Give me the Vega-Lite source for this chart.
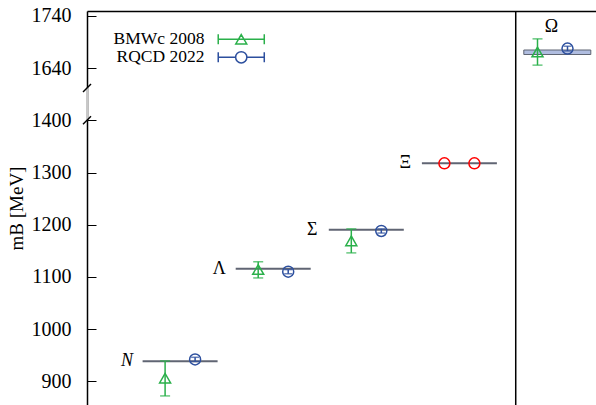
{
  "$schema": "https://vega.github.io/schema/vega-lite/v6.json",
  "width": 509,
  "height": 394,
  "autosize": "none",
  "padding": {"left": 87, "top": 11, "right": 0, "bottom": 0},
  "config": {"view": {"stroke": null}, "font": "Liberation Serif"},
  "datasets": {
    "baryons": [
      {"baryon": "N", "idx": 1, "mass": 938.5},
      {"baryon": "Λ", "idx": 2, "mass": 1115.7},
      {"baryon": "Σ", "idx": 3, "mass": 1190.5},
      {"baryon": "Ξ", "idx": 4, "mass": 1317.5},
      {"baryon": "Ω", "idx": 5, "mass": 1670.5}
    ],
    "results": [
      {"baryon": "N", "idx": 1, "source": "BMWc 2008", "style": "BMWc 2008", "mass": 906, "lo": 872, "hi": 939},
      {"baryon": "N", "idx": 1, "source": "RQCD 2022", "style": "RQCD 2022", "mass": 942, "lo": 938, "hi": 946},
      {"baryon": "Λ", "idx": 2, "source": "BMWc 2008", "style": "BMWc 2008", "mass": 1114, "lo": 1098, "hi": 1129},
      {"baryon": "Λ", "idx": 2, "source": "RQCD 2022", "style": "RQCD 2022", "mass": 1110, "lo": 1106, "hi": 1114},
      {"baryon": "Σ", "idx": 3, "source": "BMWc 2008", "style": "BMWc 2008", "mass": 1169, "lo": 1146, "hi": 1192},
      {"baryon": "Σ", "idx": 3, "source": "RQCD 2022", "style": "RQCD 2022", "mass": 1188, "lo": 1184, "hi": 1192},
      {"baryon": "Ξ", "idx": 4, "source": "BMWc 2008", "style": "input", "mass": 1317.5, "lo": 1317.5, "hi": 1317.5},
      {"baryon": "Ξ", "idx": 4, "source": "RQCD 2022", "style": "input", "mass": 1317.5, "lo": 1317.5, "hi": 1317.5},
      {"baryon": "Ω", "idx": 5, "source": "BMWc 2008", "style": "BMWc 2008", "mass": 1671, "lo": 1646, "hi": 1696},
      {"baryon": "Ω", "idx": 5, "source": "RQCD 2022", "style": "RQCD 2022", "mass": 1677.5, "lo": 1673, "hi": 1682}
    ],
    "breaks": [{"m": 1400}, {"m": 1602.5}],
    "gap": [{"lo": 1400, "hi": 1602.5}],
    "panels": [{"sep": 4.605}]
  },
  "layer": [
    {
      "data": {"name": "baryons"},
      "transform": [{"filter": "datum.idx < 5"}],
      "mark": {"type": "tick", "orient": "horizontal", "size": 75, "thickness": 2, "color": "#1c2438"},
      "encoding": {
        "x": {"field": "idx", "type": "quantitative", "scale": {"domain": [0, 5.4672], "nice": false, "zero": false},
              "axis": {"orient": "top", "labels": false, "ticks": false, "title": null, "grid": false, "domainColor": "#000", "domainWidth": 1.5, "zindex": 0}},
        "y": {"field": "mass", "type": "quantitative",
              "scale": {"domain": [854.6, 1400, 1602.5, 1749], "range": [394, 109.3, 77, 0], "nice": false, "zero": false},
              "axis": {"values": [900, 1000, 1100, 1200, 1300, 1400, 1640, 1740], "format": "d", "grid": false, "tickSize": -9, "tickColor": "#000", "tickWidth": 1, "labelPadding": 25, "labelFont": "Liberation Serif", "labelFontSize": 20, "labelColor": "#000", "labelOverlap": false, "labelFlush": false, "domainColor": "#000", "domainWidth": 1.5, "zindex": 0, "title": "mB [MeV]", "titleFont": "Liberation Serif", "titleFontSize": 19, "titleFontWeight": "normal", "titleColor": "#000", "titlePadding": 5}}
      }
    },
    {
      "data": {"name": "baryons"},
      "transform": [{"filter": "datum.idx == 5"}],
      "mark": {"type": "tick", "orient": "horizontal", "size": 67, "thickness": 4.5, "color": "#8fa2d4", "stroke": "#1c2438", "strokeWidth": 1, "xOffset": 4.8},
      "encoding": {
        "x": {"field": "idx", "type": "quantitative", "scale": {"domain": [0, 5.4672], "nice": false, "zero": false},
              "axis": {"orient": "top", "labels": false, "ticks": false, "title": null, "grid": false, "domainColor": "#000", "domainWidth": 1.5, "zindex": 0}},
        "y": {"field": "mass", "type": "quantitative",
              "scale": {"domain": [854.6, 1400, 1602.5, 1749], "range": [394, 109.3, 77, 0], "nice": false, "zero": false},
              "axis": {"values": [900, 1000, 1100, 1200, 1300, 1400, 1640, 1740], "format": "d", "grid": false, "tickSize": -9, "tickColor": "#000", "tickWidth": 1, "labelPadding": 25, "labelFont": "Liberation Serif", "labelFontSize": 20, "labelColor": "#000", "labelOverlap": false, "labelFlush": false, "domainColor": "#000", "domainWidth": 1.5, "zindex": 0, "title": "mB [MeV]", "titleFont": "Liberation Serif", "titleFontSize": 19, "titleFontWeight": "normal", "titleColor": "#000", "titlePadding": 5}}
      }
    },
    {
      "data": {"name": "panels"},
      "mark": {"type": "rule", "color": "#000", "strokeWidth": 1.5},
      "encoding": {
        "x": {"field": "sep", "type": "quantitative", "scale": {"domain": [0, 5.4672], "nice": false, "zero": false},
              "axis": {"orient": "top", "labels": false, "ticks": false, "title": null, "grid": false, "domainColor": "#000", "domainWidth": 1.5, "zindex": 0}}
      }
    },
    {
      "data": {"name": "gap"},
      "mark": {"type": "rule", "color": "#c8c8c8", "strokeWidth": 2},
      "encoding": {
        "x": {"datum": 0, "type": "quantitative", "scale": {"domain": [0, 5.4672], "nice": false, "zero": false},
              "axis": {"orient": "top", "labels": false, "ticks": false, "title": null, "grid": false, "domainColor": "#000", "domainWidth": 1.5, "zindex": 0}},
        "y": {"field": "lo", "type": "quantitative",
              "scale": {"domain": [854.6, 1400, 1602.5, 1749], "range": [394, 109.3, 77, 0], "nice": false, "zero": false},
              "axis": {"values": [900, 1000, 1100, 1200, 1300, 1400, 1640, 1740], "format": "d", "grid": false, "tickSize": -9, "tickColor": "#000", "tickWidth": 1, "labelPadding": 25, "labelFont": "Liberation Serif", "labelFontSize": 20, "labelColor": "#000", "labelOverlap": false, "labelFlush": false, "domainColor": "#000", "domainWidth": 1.5, "zindex": 0, "title": "mB [MeV]", "titleFont": "Liberation Serif", "titleFontSize": 19, "titleFontWeight": "normal", "titleColor": "#000", "titlePadding": 5}},
        "y2": {"field": "hi"}
      }
    },
    {
      "data": {"name": "breaks"},
      "mark": {"type": "point", "shape": "M-1,1L1,-1", "size": 64, "filled": false, "color": "#000", "strokeWidth": 1.5, "opacity": 1},
      "encoding": {
        "x": {"datum": 0, "type": "quantitative", "scale": {"domain": [0, 5.4672], "nice": false, "zero": false},
              "axis": {"orient": "top", "labels": false, "ticks": false, "title": null, "grid": false, "domainColor": "#000", "domainWidth": 1.5, "zindex": 0}},
        "y": {"field": "m", "type": "quantitative",
              "scale": {"domain": [854.6, 1400, 1602.5, 1749], "range": [394, 109.3, 77, 0], "nice": false, "zero": false},
              "axis": {"values": [900, 1000, 1100, 1200, 1300, 1400, 1640, 1740], "format": "d", "grid": false, "tickSize": -9, "tickColor": "#000", "tickWidth": 1, "labelPadding": 25, "labelFont": "Liberation Serif", "labelFontSize": 20, "labelColor": "#000", "labelOverlap": false, "labelFlush": false, "domainColor": "#000", "domainWidth": 1.5, "zindex": 0, "title": "mB [MeV]", "titleFont": "Liberation Serif", "titleFontSize": 19, "titleFontWeight": "normal", "titleColor": "#000", "titlePadding": 5}}
      }
    },
    {
      "data": {"name": "results"},
      "transform": [{"filter": "datum.source == 'BMWc 2008' && datum.style != 'input'"}],
      "layer": [
        {"mark": {"type": "rule", "strokeWidth": 1.5, "xOffset": -15, "color": "#2ab04a"},
         "encoding": {"y": {"field": "lo", "type": "quantitative", "scale": {"domain": [854.6, 1400, 1602.5, 1749], "range": [394, 109.3, 77, 0], "nice": false, "zero": false},
              "axis": {"values": [900, 1000, 1100, 1200, 1300, 1400, 1640, 1740], "format": "d", "grid": false, "tickSize": -9, "tickColor": "#000", "tickWidth": 1, "labelPadding": 25, "labelFont": "Liberation Serif", "labelFontSize": 20, "labelColor": "#000", "labelOverlap": false, "labelFlush": false, "domainColor": "#000", "domainWidth": 1.5, "zindex": 0, "title": "mB [MeV]", "titleFont": "Liberation Serif", "titleFontSize": 19, "titleFontWeight": "normal", "titleColor": "#000", "titlePadding": 5}},
                      "y2": {"field": "hi"}}},
        {"mark": {"type": "tick", "orient": "horizontal", "size": 10, "thickness": 1.5, "xOffset": -15, "color": "#2ab04a"},
         "encoding": {"y": {"field": "lo", "type": "quantitative", "scale": {"domain": [854.6, 1400, 1602.5, 1749], "range": [394, 109.3, 77, 0], "nice": false, "zero": false},
              "axis": {"values": [900, 1000, 1100, 1200, 1300, 1400, 1640, 1740], "format": "d", "grid": false, "tickSize": -9, "tickColor": "#000", "tickWidth": 1, "labelPadding": 25, "labelFont": "Liberation Serif", "labelFontSize": 20, "labelColor": "#000", "labelOverlap": false, "labelFlush": false, "domainColor": "#000", "domainWidth": 1.5, "zindex": 0, "title": "mB [MeV]", "titleFont": "Liberation Serif", "titleFontSize": 19, "titleFontWeight": "normal", "titleColor": "#000", "titlePadding": 5}}}},
        {"mark": {"type": "tick", "orient": "horizontal", "size": 10, "thickness": 1.5, "xOffset": -15, "color": "#2ab04a"},
         "encoding": {"y": {"field": "hi", "type": "quantitative", "scale": {"domain": [854.6, 1400, 1602.5, 1749], "range": [394, 109.3, 77, 0], "nice": false, "zero": false},
              "axis": {"values": [900, 1000, 1100, 1200, 1300, 1400, 1640, 1740], "format": "d", "grid": false, "tickSize": -9, "tickColor": "#000", "tickWidth": 1, "labelPadding": 25, "labelFont": "Liberation Serif", "labelFontSize": 20, "labelColor": "#000", "labelOverlap": false, "labelFlush": false, "domainColor": "#000", "domainWidth": 1.5, "zindex": 0, "title": "mB [MeV]", "titleFont": "Liberation Serif", "titleFontSize": 19, "titleFontWeight": "normal", "titleColor": "#000", "titlePadding": 5}}}},
        {"mark": {"type": "point", "shape": "triangle-up", "filled": false, "size": 121, "strokeWidth": 1.5, "opacity": 1, "xOffset": -15, "color": "#2ab04a"},
         "encoding": {"y": {"field": "mass", "type": "quantitative", "scale": {"domain": [854.6, 1400, 1602.5, 1749], "range": [394, 109.3, 77, 0], "nice": false, "zero": false},
              "axis": {"values": [900, 1000, 1100, 1200, 1300, 1400, 1640, 1740], "format": "d", "grid": false, "tickSize": -9, "tickColor": "#000", "tickWidth": 1, "labelPadding": 25, "labelFont": "Liberation Serif", "labelFontSize": 20, "labelColor": "#000", "labelOverlap": false, "labelFlush": false, "domainColor": "#000", "domainWidth": 1.5, "zindex": 0, "title": "mB [MeV]", "titleFont": "Liberation Serif", "titleFontSize": 19, "titleFontWeight": "normal", "titleColor": "#000", "titlePadding": 5}}}}
      ],
      "encoding": {
        "x": {"field": "idx", "type": "quantitative", "scale": {"domain": [0, 5.4672], "nice": false, "zero": false},
              "axis": {"orient": "top", "labels": false, "ticks": false, "title": null, "grid": false, "domainColor": "#000", "domainWidth": 1.5, "zindex": 0}}
      }
    },
    {
      "data": {"name": "results"},
      "transform": [{"filter": "datum.source == 'RQCD 2022' && datum.style != 'input'"}],
      "layer": [
        {"mark": {"type": "rule", "strokeWidth": 1.5, "xOffset": 15, "color": "#2c4f9e"},
         "encoding": {"y": {"field": "lo", "type": "quantitative", "scale": {"domain": [854.6, 1400, 1602.5, 1749], "range": [394, 109.3, 77, 0], "nice": false, "zero": false},
              "axis": {"values": [900, 1000, 1100, 1200, 1300, 1400, 1640, 1740], "format": "d", "grid": false, "tickSize": -9, "tickColor": "#000", "tickWidth": 1, "labelPadding": 25, "labelFont": "Liberation Serif", "labelFontSize": 20, "labelColor": "#000", "labelOverlap": false, "labelFlush": false, "domainColor": "#000", "domainWidth": 1.5, "zindex": 0, "title": "mB [MeV]", "titleFont": "Liberation Serif", "titleFontSize": 19, "titleFontWeight": "normal", "titleColor": "#000", "titlePadding": 5}},
                      "y2": {"field": "hi"}}},
        {"mark": {"type": "tick", "orient": "horizontal", "size": 8, "thickness": 1.5, "xOffset": 15, "color": "#2c4f9e"},
         "encoding": {"y": {"field": "lo", "type": "quantitative", "scale": {"domain": [854.6, 1400, 1602.5, 1749], "range": [394, 109.3, 77, 0], "nice": false, "zero": false},
              "axis": {"values": [900, 1000, 1100, 1200, 1300, 1400, 1640, 1740], "format": "d", "grid": false, "tickSize": -9, "tickColor": "#000", "tickWidth": 1, "labelPadding": 25, "labelFont": "Liberation Serif", "labelFontSize": 20, "labelColor": "#000", "labelOverlap": false, "labelFlush": false, "domainColor": "#000", "domainWidth": 1.5, "zindex": 0, "title": "mB [MeV]", "titleFont": "Liberation Serif", "titleFontSize": 19, "titleFontWeight": "normal", "titleColor": "#000", "titlePadding": 5}}}},
        {"mark": {"type": "tick", "orient": "horizontal", "size": 8, "thickness": 1.5, "xOffset": 15, "color": "#2c4f9e"},
         "encoding": {"y": {"field": "hi", "type": "quantitative", "scale": {"domain": [854.6, 1400, 1602.5, 1749], "range": [394, 109.3, 77, 0], "nice": false, "zero": false},
              "axis": {"values": [900, 1000, 1100, 1200, 1300, 1400, 1640, 1740], "format": "d", "grid": false, "tickSize": -9, "tickColor": "#000", "tickWidth": 1, "labelPadding": 25, "labelFont": "Liberation Serif", "labelFontSize": 20, "labelColor": "#000", "labelOverlap": false, "labelFlush": false, "domainColor": "#000", "domainWidth": 1.5, "zindex": 0, "title": "mB [MeV]", "titleFont": "Liberation Serif", "titleFontSize": 19, "titleFontWeight": "normal", "titleColor": "#000", "titlePadding": 5}}}},
        {"mark": {"type": "point", "shape": "circle", "filled": false, "size": 121, "strokeWidth": 1.5, "opacity": 1, "xOffset": 15, "color": "#2c4f9e"},
         "encoding": {"y": {"field": "mass", "type": "quantitative", "scale": {"domain": [854.6, 1400, 1602.5, 1749], "range": [394, 109.3, 77, 0], "nice": false, "zero": false},
              "axis": {"values": [900, 1000, 1100, 1200, 1300, 1400, 1640, 1740], "format": "d", "grid": false, "tickSize": -9, "tickColor": "#000", "tickWidth": 1, "labelPadding": 25, "labelFont": "Liberation Serif", "labelFontSize": 20, "labelColor": "#000", "labelOverlap": false, "labelFlush": false, "domainColor": "#000", "domainWidth": 1.5, "zindex": 0, "title": "mB [MeV]", "titleFont": "Liberation Serif", "titleFontSize": 19, "titleFontWeight": "normal", "titleColor": "#000", "titlePadding": 5}}}}
      ],
      "encoding": {
        "x": {"field": "idx", "type": "quantitative", "scale": {"domain": [0, 5.4672], "nice": false, "zero": false},
              "axis": {"orient": "top", "labels": false, "ticks": false, "title": null, "grid": false, "domainColor": "#000", "domainWidth": 1.5, "zindex": 0}}
      }
    },
    {
      "data": {"name": "results"},
      "transform": [{"filter": "datum.style == 'input' && datum.source == 'BMWc 2008'"}],
      "mark": {"type": "point", "shape": "circle", "filled": false, "size": 121, "strokeWidth": 1.5, "opacity": 1, "xOffset": -15, "color": "#ff0000"},
      "encoding": {
        "x": {"field": "idx", "type": "quantitative", "scale": {"domain": [0, 5.4672], "nice": false, "zero": false},
              "axis": {"orient": "top", "labels": false, "ticks": false, "title": null, "grid": false, "domainColor": "#000", "domainWidth": 1.5, "zindex": 0}},
        "y": {"field": "mass", "type": "quantitative", "scale": {"domain": [854.6, 1400, 1602.5, 1749], "range": [394, 109.3, 77, 0], "nice": false, "zero": false},
              "axis": {"values": [900, 1000, 1100, 1200, 1300, 1400, 1640, 1740], "format": "d", "grid": false, "tickSize": -9, "tickColor": "#000", "tickWidth": 1, "labelPadding": 25, "labelFont": "Liberation Serif", "labelFontSize": 20, "labelColor": "#000", "labelOverlap": false, "labelFlush": false, "domainColor": "#000", "domainWidth": 1.5, "zindex": 0, "title": "mB [MeV]", "titleFont": "Liberation Serif", "titleFontSize": 19, "titleFontWeight": "normal", "titleColor": "#000", "titlePadding": 5}}
      }
    },
    {
      "data": {"name": "results"},
      "transform": [{"filter": "datum.style == 'input' && datum.source == 'RQCD 2022'"}],
      "mark": {"type": "point", "shape": "circle", "filled": false, "size": 121, "strokeWidth": 1.5, "opacity": 1, "xOffset": 15, "color": "#ff0000"},
      "encoding": {
        "x": {"field": "idx", "type": "quantitative", "scale": {"domain": [0, 5.4672], "nice": false, "zero": false},
              "axis": {"orient": "top", "labels": false, "ticks": false, "title": null, "grid": false, "domainColor": "#000", "domainWidth": 1.5, "zindex": 0}},
        "y": {"field": "mass", "type": "quantitative", "scale": {"domain": [854.6, 1400, 1602.5, 1749], "range": [394, 109.3, 77, 0], "nice": false, "zero": false},
              "axis": {"values": [900, 1000, 1100, 1200, 1300, 1400, 1640, 1740], "format": "d", "grid": false, "tickSize": -9, "tickColor": "#000", "tickWidth": 1, "labelPadding": 25, "labelFont": "Liberation Serif", "labelFontSize": 20, "labelColor": "#000", "labelOverlap": false, "labelFlush": false, "domainColor": "#000", "domainWidth": 1.5, "zindex": 0, "title": "mB [MeV]", "titleFont": "Liberation Serif", "titleFontSize": 19, "titleFontWeight": "normal", "titleColor": "#000", "titlePadding": 5}}
      }
    },
    {
      "data": {"name": "results"},
      "transform": [{"filter": "false"}],
      "mark": {"type": "point", "filled": false, "strokeWidth": 1.5, "opacity": 1},
      "encoding": {
        "x": {"field": "idx", "type": "quantitative", "scale": {"domain": [0, 5.4672], "nice": false, "zero": false},
              "axis": {"orient": "top", "labels": false, "ticks": false, "title": null, "grid": false, "domainColor": "#000", "domainWidth": 1.5, "zindex": 0}},
        "y": {"field": "mass", "type": "quantitative", "scale": {"domain": [854.6, 1400, 1602.5, 1749], "range": [394, 109.3, 77, 0], "nice": false, "zero": false},
              "axis": {"values": [900, 1000, 1100, 1200, 1300, 1400, 1640, 1740], "format": "d", "grid": false, "tickSize": -9, "tickColor": "#000", "tickWidth": 1, "labelPadding": 25, "labelFont": "Liberation Serif", "labelFontSize": 20, "labelColor": "#000", "labelOverlap": false, "labelFlush": false, "domainColor": "#000", "domainWidth": 1.5, "zindex": 0, "title": "mB [MeV]", "titleFont": "Liberation Serif", "titleFontSize": 19, "titleFontWeight": "normal", "titleColor": "#000", "titlePadding": 5}},
        "shape": {"field": "style", "type": "nominal",
                  "scale": {"domain": ["BMWc 2008", "RQCD 2022"], "range": [
                    "M-3.07,0H3.07M-3.07,-0.67V0.67M3.07,-0.67V0.67M0,-0.63L0.73,0.63L-0.73,0.63Z",
                    "M-3.07,0H-0.75M0.75,0H3.07M-3.07,-0.67V0.67M3.07,-0.67V0.67M0.75,0A0.75,0.75,0,1,1,-0.75,0A0.75,0.75,0,1,1,0.75,0Z"]},
                  "legend": null},
        "color": {"field": "style", "type": "nominal", "scale": {"domain": ["BMWc 2008", "RQCD 2022"], "range": ["#2ab04a", "#2c4f9e"]},
                  "legend": {"orient": "none", "legendX": 145.5, "legendY": 19.5, "title": null,
                             "padding": 0, "rowPadding": -9, "symbolSize": 225, "symbolStrokeWidth": 1.5,
                             "labelFont": "Liberation Serif", "labelFontSize": 17.5, "labelColor": "#000", "labelAlign": "right", "labelOffset": -45.5,
                             "encode": {"symbols": {"update": {"fill": {"value": "transparent"}, "opacity": {"value": 1}}}}}}
      }
    },
    {
      "data": {"name": "baryons"},
      "transform": [{"filter": "datum.idx == 1"}],
      "mark": {"type": "text", "font": "Liberation Serif", "fontSize": 18, "fontStyle": "italic", "color": "#000", "dx": -53, "align": "center", "baseline": "middle"},
      "encoding": {
        "x": {"field": "idx", "type": "quantitative", "scale": {"domain": [0, 5.4672], "nice": false, "zero": false},
              "axis": {"orient": "top", "labels": false, "ticks": false, "title": null, "grid": false, "domainColor": "#000", "domainWidth": 1.5, "zindex": 0}},
        "y": {"field": "mass", "type": "quantitative", "scale": {"domain": [854.6, 1400, 1602.5, 1749], "range": [394, 109.3, 77, 0], "nice": false, "zero": false},
              "axis": {"values": [900, 1000, 1100, 1200, 1300, 1400, 1640, 1740], "format": "d", "grid": false, "tickSize": -9, "tickColor": "#000", "tickWidth": 1, "labelPadding": 25, "labelFont": "Liberation Serif", "labelFontSize": 20, "labelColor": "#000", "labelOverlap": false, "labelFlush": false, "domainColor": "#000", "domainWidth": 1.5, "zindex": 0, "title": "mB [MeV]", "titleFont": "Liberation Serif", "titleFontSize": 19, "titleFontWeight": "normal", "titleColor": "#000", "titlePadding": 5}},
        "text": {"field": "baryon"}
      }
    },
    {
      "data": {"name": "baryons"},
      "transform": [{"filter": "datum.idx > 1 && datum.idx < 5"}],
      "mark": {"type": "text", "font": "Liberation Serif", "fontSize": 18, "color": "#000", "dx": -54, "align": "center", "baseline": "middle"},
      "encoding": {
        "x": {"field": "idx", "type": "quantitative", "scale": {"domain": [0, 5.4672], "nice": false, "zero": false},
              "axis": {"orient": "top", "labels": false, "ticks": false, "title": null, "grid": false, "domainColor": "#000", "domainWidth": 1.5, "zindex": 0}},
        "y": {"field": "mass", "type": "quantitative", "scale": {"domain": [854.6, 1400, 1602.5, 1749], "range": [394, 109.3, 77, 0], "nice": false, "zero": false},
              "axis": {"values": [900, 1000, 1100, 1200, 1300, 1400, 1640, 1740], "format": "d", "grid": false, "tickSize": -9, "tickColor": "#000", "tickWidth": 1, "labelPadding": 25, "labelFont": "Liberation Serif", "labelFontSize": 20, "labelColor": "#000", "labelOverlap": false, "labelFlush": false, "domainColor": "#000", "domainWidth": 1.5, "zindex": 0, "title": "mB [MeV]", "titleFont": "Liberation Serif", "titleFontSize": 19, "titleFontWeight": "normal", "titleColor": "#000", "titlePadding": 5}},
        "text": {"field": "baryon"}
      }
    },
    {
      "data": {"name": "baryons"},
      "transform": [{"filter": "datum.idx == 5"}],
      "mark": {"type": "text", "font": "Liberation Serif", "fontSize": 18, "color": "#000", "dx": -1, "dy": -25, "align": "center", "baseline": "middle"},
      "encoding": {
        "x": {"field": "idx", "type": "quantitative", "scale": {"domain": [0, 5.4672], "nice": false, "zero": false},
              "axis": {"orient": "top", "labels": false, "ticks": false, "title": null, "grid": false, "domainColor": "#000", "domainWidth": 1.5, "zindex": 0}},
        "y": {"field": "mass", "type": "quantitative", "scale": {"domain": [854.6, 1400, 1602.5, 1749], "range": [394, 109.3, 77, 0], "nice": false, "zero": false},
              "axis": {"values": [900, 1000, 1100, 1200, 1300, 1400, 1640, 1740], "format": "d", "grid": false, "tickSize": -9, "tickColor": "#000", "tickWidth": 1, "labelPadding": 25, "labelFont": "Liberation Serif", "labelFontSize": 20, "labelColor": "#000", "labelOverlap": false, "labelFlush": false, "domainColor": "#000", "domainWidth": 1.5, "zindex": 0, "title": "mB [MeV]", "titleFont": "Liberation Serif", "titleFontSize": 19, "titleFontWeight": "normal", "titleColor": "#000", "titlePadding": 5}},
        "text": {"field": "baryon"}
      }
    }
  ]
}
